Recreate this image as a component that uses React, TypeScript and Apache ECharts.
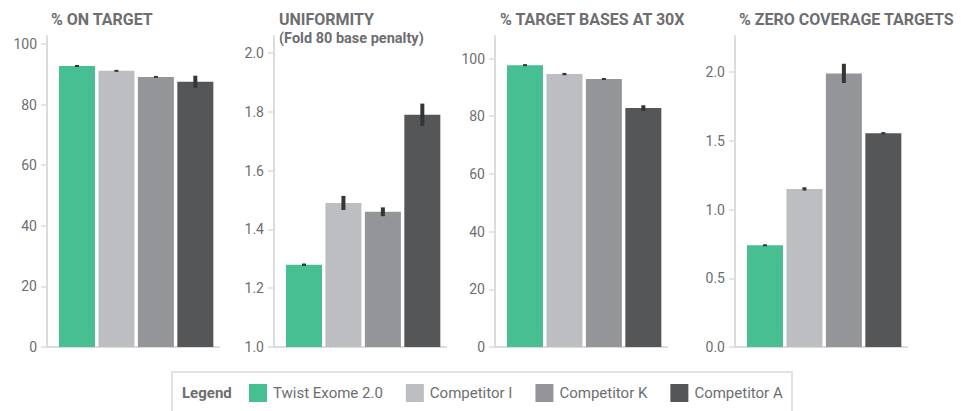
import React, { useEffect, useRef } from "react";
import * as echarts from "echarts";

const seriesNames = ["Twist Exome 2.0", "Competitor I", "Competitor K", "Competitor A"];
const seriesColors = ["#48bf93", "#bdbec1", "#949598", "#555658"];

const chartTitles = ["% ON TARGET", "UNIFORMITY", "% TARGET BASES AT 30X", "% ZERO COVERAGE TARGETS"];
const chartSubtitles = ["", "(Fold 80 base penalty)", "", ""];

const onTarget = [92.7, 91.1, 89.1, 87.5];
const onTargetErr = [0.3, 0.25, 0.25, 2.0];
const uniformity = [1.28, 1.49, 1.46, 1.79];
const uniformityErr = [0.004, 0.024, 0.015, 0.038];
const bases30x = [97.7, 94.6, 92.9, 82.8];
const bases30xErr = [0.1, 0.4, 0.25, 1.0];
const zeroCoverage = [0.74, 1.15, 1.99, 1.555];
const zeroCoverageErr = [0.004, 0.012, 0.07, 0.008];

const tickLabels1 = [0, 20, 40, 60, 80, 100];
const tickLabels2 = [1.0, 1.2, 1.4, 1.6, 1.8, 2.0];
const tickLabels3 = [0, 20, 40, 60, 80, 100];
const tickLabels4 = [0, 0.5, 1.0, 1.5, 2.0];

const panels = [
  { values: onTarget, errs: onTargetErr, ticks: tickLabels1, min: 0, max: 102.6, digits: 0 },
  { values: uniformity, errs: uniformityErr, ticks: tickLabels2, min: 1.0, max: 2.058, digits: 1 },
  { values: bases30x, errs: bases30xErr, ticks: tickLabels3, min: 0, max: 107.8, digits: 0 },
  { values: zeroCoverage, errs: zeroCoverageErr, ticks: tickLabels4, min: 0, max: 2.262, digits: 1 },
];

const gridLefts = [47, 274, 495, 735];
const titleLefts = [51, 279, 500, 739];
const FONT = "Roboto, 'Noto Sans', sans-serif";
const TEXT_COLOR = "#6d6e70";
const AXIS_COLOR = "#dcdcdc";

export default function App() {
  const ref = useRef<HTMLDivElement>(null);

  useEffect(() => {
    if (!ref.current) return;
    const chart = echarts.init(ref.current, null, { renderer: "svg" });

    const grid: any[] = [];
    const xAxis: any[] = [];
    const yAxis: any[] = [];
    const series: any[] = [];
    const title: any[] = [];

    panels.forEach((p, gi) => {
      grid.push({ left: gridLefts[gi], top: 36, width: 172, height: 311 });
      xAxis.push({
        type: "value",
        gridIndex: gi,
        min: 0.24,
        max: 4.6,
        axisLine: { show: true, lineStyle: { color: AXIS_COLOR, width: 2 } },
        axisTick: { show: false },
        axisLabel: { show: false },
        splitLine: { show: false },
      });
      yAxis.push({
        type: "value",
        gridIndex: gi,
        min: p.min,
        max: p.max,
        axisLine: { show: true, lineStyle: { color: AXIS_COLOR, width: 2 } },
        axisTick: {
          show: true,
          length: 6,
          customValues: p.ticks,
          lineStyle: { color: AXIS_COLOR, width: 1.5 },
        },
        axisLabel: {
          customValues: p.ticks,
          margin: 10,
          color: TEXT_COLOR,
          fontSize: 14,
          fontFamily: FONT,
          formatter: (v: number) => v.toFixed(p.digits),
        },
        splitLine: { show: false },
      });
      title.push({
        text: chartTitles[gi],
        subtext: chartSubtitles[gi],
        left: titleLefts[gi],
        top: 11,
        padding: 0,
        itemGap: 4,
        textStyle: { fontSize: 16, fontWeight: "bold", color: TEXT_COLOR, fontFamily: FONT },
        subtextStyle: { fontSize: 14.5, fontWeight: "bold", color: TEXT_COLOR, fontFamily: FONT },
      });
      p.values.forEach((v, si) => {
        series.push({
          type: "bar",
          name: seriesNames[si],
          xAxisIndex: gi,
          yAxisIndex: gi,
          barWidth: 36,
          barGap: "-100%",
          itemStyle: { color: seriesColors[si] },
          data: [[si + 1, v]],
          silent: true,
        });
      });
      series.push({
        type: "custom",
        xAxisIndex: gi,
        yAxisIndex: gi,
        silent: true,
        z: 5,
        data: p.values.map((v, si) => [si + 1, v - p.errs[si], v + p.errs[si]]),
        renderItem: (params: any, api: any) => {
          const lo = api.coord([api.value(0), api.value(1)]);
          const hi = api.coord([api.value(0), api.value(2)]);
          const h = Math.max(lo[1] - hi[1], 2);
          return {
            type: "rect",
            shape: { x: lo[0] - 2, y: (lo[1] + hi[1]) / 2 - h / 2, width: 4, height: h },
            style: { fill: "#353535" },
          };
        },
      });
    });

    chart.setOption({
      animation: false,
      backgroundColor: "#ffffff",
      textStyle: { fontFamily: FONT },
      title,
      grid,
      xAxis,
      yAxis,
      series,
      legend: {
        data: seriesNames,
        left: 249,
        top: 384,
        padding: 0,
        icon: "rect",
        itemWidth: 18,
        itemHeight: 18,
        itemGap: 23,
        selectedMode: false,
        textStyle: { fontSize: 15, color: TEXT_COLOR, fontFamily: FONT, padding: [0, 0, 0, 1] },
      },
      graphic: [
        {
          type: "rect",
          shape: { x: 172, y: 372, width: 620, height: 60 },
          style: { fill: "none", stroke: "#e2e2e2", lineWidth: 2 },
          silent: true,
        },
        {
          type: "text",
          x: 182,
          y: 393,
          style: {
            text: "Legend",
            fontSize: 15,
            fontWeight: "bold",
            fill: TEXT_COLOR,
            fontFamily: FONT,
            verticalAlign: "middle",
          },
          silent: true,
        },
      ],
    });

    return () => chart.dispose();
  }, []);

  return (
    <div
      ref={ref}
      style={{ position: "absolute", left: 0, top: 0, width: 964, height: 411 }}
    />
  );
}
